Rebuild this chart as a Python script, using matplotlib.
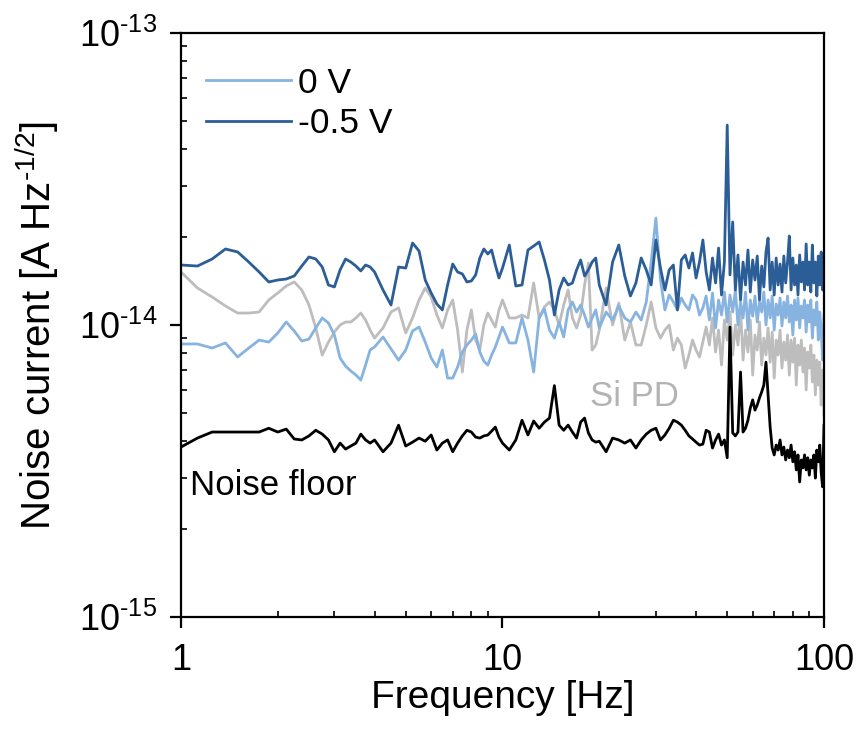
import matplotlib
matplotlib.use("Agg")
import matplotlib.pyplot as plt
from matplotlib.ticker import LogLocator, NullFormatter

plt.rcParams['font.family'] = ['Liberation Sans', 'DejaVu Sans']
plt.rcParams['mathtext.fontset'] = 'custom'
plt.rcParams['mathtext.rm'] = 'Liberation Sans'
plt.rcParams['mathtext.it'] = 'Liberation Sans:italic'
plt.rcParams['mathtext.bf'] = 'Liberation Sans:bold'
plt.rcParams['axes.unicode_minus'] = False

# Frequency bins [Hz]
freq = [1.0, 1.125, 1.25, 1.375, 1.5, 1.625, 1.75, 1.875, 2.0, 2.125, 2.25, 2.375, 2.5,
        2.625, 2.75, 2.875, 3.0, 3.125, 3.25, 3.375, 3.5, 3.625, 3.75, 3.875, 4.0,
        4.25, 4.5, 4.75, 5.0, 5.25, 5.5, 5.75, 6.0, 6.25, 6.5, 6.75, 7.0, 7.25, 7.5,
        7.75, 8.0, 8.25, 8.5, 8.75, 9.0, 9.25, 9.5, 9.75, 10.0,
        10.5, 11, 11.5, 12, 12.5, 13, 13.5, 14, 14.5, 15, 15.5, 16, 16.5, 17, 17.5,
        18, 18.5, 19, 19.5, 20,
        21, 22, 23, 24, 25, 26, 27, 28, 29, 30, 31, 32, 33, 34, 35, 36, 37, 38, 39, 40,
        41, 42, 43, 44, 45, 46, 47, 48, 49, 50, 51, 52, 53, 54, 55, 56, 57, 58, 59, 60,
        61, 62, 63, 64, 65, 66, 67, 68, 69, 70, 71, 72, 73, 74, 75, 76, 77, 78, 79, 80,
        81, 82, 83, 84, 85, 86, 87, 88, 89, 90, 91, 92, 93, 94, 95, 96, 97, 98, 99, 100]

# Noise current values in fA/Hz^0.5
v_m05 = [16.05, 15.92, 16.83, 18.21, 17.79, 16.43, 15.19, 14.04, 14.26, 14.37, 14.72, 15.92, 17.10,
         16.83, 15.80, 13.71, 13.50, 15.44, 16.83, 16.43, 15.92, 15.32, 16.05, 15.80, 15.19,
         13.18, 11.71, 15.80, 15.67, 19.09, 17.93, 14.26, 12.87, 11.80, 11.26, 13.71, 16.18, 15.19, 14.96,
         14.04, 14.15, 14.84, 16.96, 18.21, 17.51, 18.06, 16.05, 14.49, 15.67,
         18.79, 13.60, 13.71, 18.06, 18.64, 19.24, 16.70, 14.26, 10.82, 13.18, 14.49, 13.71, 13.93, 15.44, 16.70,
         14.72, 15.44, 16.43, 16.96, 13.71,
         11.71, 16.43, 18.79, 14.72, 12.57, 13.93, 16.96, 15.44, 13.71, 19.55, 15.67, 13.18, 15.44, 16.05, 11.26, 16.70, 17.37, 15.67, 17.65, 14.49,
         16.43, 19.55, 15.19, 13.18, 16.96, 13.93, 18.35, 12.67, 16.43, 48.4, 14.84, 22.53, 13.18, 17.37, 12.18, 16.43, 13.71, 18.06, 12.97, 16.70,
         14.26, 17.23, 12.18, 15.92, 13.50, 17.79, 19.85, 13.18, 16.43, 12.67, 16.96, 13.71, 16.18, 12.97, 17.23, 13.93, 16.43, 20.17, 13.18, 16.96,
         13.71, 16.05, 12.67, 17.37, 14.04, 16.43, 13.18, 18.94, 13.71, 16.43, 12.97, 18.79, 13.93, 16.43, 12.57, 17.23, 13.71, 17.79, 13.18, 16.43]

v_0 = [8.61, 8.61, 8.34, 8.68, 7.77, 8.34, 8.88, 8.74, 9.39, 10.24, 9.54, 8.81, 8.95,
       9.77, 10.57, 10.16, 9.24, 7.71, 7.23, 6.96, 6.74, 6.48, 7.29, 8.21, 8.41,
       9.10, 8.28, 7.58, 8.21, 9.54, 9.84, 8.74, 7.71, 7.18, 8.21, 6.58, 6.58, 7.18, 8.08,
       8.54, 8.88, 9.31, 8.08, 7.52, 7.29, 7.89, 8.41, 9.10, 9.84,
       8.68, 8.68, 10.57, 8.88, 6.90, 10.57, 11.35, 9.61, 9.02, 10.24, 9.10, 11.26, 11.99, 11.08, 11.71,
       10.82, 9.84, 10.57, 11.26, 9.77,
       11.08, 10.40, 11.62, 10.57, 10.24, 11.08, 10.40, 11.99, 16.43, 23.24, 14.26, 11.26, 12.67, 11.99, 11.26, 12.37, 11.71, 11.26, 12.67, 12.18,
       10.82, 11.44, 12.57, 10.40, 12.87, 9.77, 12.18, 10.82, 12.97, 10.24, 12.67, 11.08, 13.18, 10.00, 11.99, 10.57, 12.97, 9.61, 12.18, 10.73,
       12.57, 10.24, 11.99, 11.08, 12.97, 10.00, 12.18, 10.57, 12.57, 9.61, 11.80, 10.82, 12.37, 9.92, 11.99, 10.57, 12.57, 10.24, 11.71, 9.24,
       12.18, 10.40, 12.37, 9.77, 11.62, 10.57, 12.18, 9.46, 11.71, 10.24, 12.18, 9.02, 11.26, 10.00, 11.99, 8.88, 11.08, 9.61, 7.58, 10.82]

v_sipd = [15.19, 13.39, 12.47, 11.62, 10.99, 10.99, 11.08, 12.18, 12.87, 13.60, 14.04, 13.18, 11.71,
          9.77, 7.89, 8.74, 9.46, 10.00, 10.24, 10.24, 10.57, 10.99, 10.40, 9.61, 9.02,
          9.77, 11.08, 11.44, 9.39, 10.57, 12.18, 13.39, 12.47, 10.82, 9.77, 11.26, 12.18, 9.61, 6.90,
          9.61, 11.26, 8.88, 8.21, 10.00, 10.99, 10.40, 9.84, 11.26, 12.18,
          10.57, 10.57, 10.82, 10.57, 13.93, 10.57, 11.53, 11.99, 11.26, 10.00, 11.71, 13.18, 10.57, 9.77, 10.82,
          13.71, 16.31, 8.21, 8.54, 9.61,
          13.39, 10.00, 11.90, 8.88, 10.24, 8.54, 8.54, 10.00, 11.99, 9.77, 9.02, 9.61, 10.00, 8.21, 9.02, 8.54, 7.12, 7.89, 8.88, 8.21,
          7.77, 8.74, 9.84, 8.54, 10.57, 8.08, 9.61, 7.29, 10.40, 8.88, 11.08, 7.89, 10.00, 8.54, 11.44, 7.58, 9.61, 8.08, 10.40, 6.74,
          9.24, 8.21, 10.24, 7.29, 9.02, 7.89, 9.77, 7.46, 9.46, 6.58, 8.88, 7.89, 9.61, 7.12, 8.74, 7.58, 9.24, 6.74, 8.88, 7.46,
          9.02, 6.23, 8.54, 7.29, 8.88, 6.90, 8.34, 5.99, 8.08, 7.12, 8.54, 6.38, 7.89, 5.76, 7.58, 6.23, 7.46, 5.32, 7.01, 4.92]

v_floor = [3.82, 4.10, 4.30, 4.30, 4.30, 4.30, 4.30, 4.43, 4.30, 4.40, 4.07, 4.04, 4.17,
           4.36, 4.23, 4.04, 3.68, 3.94, 3.76, 3.85, 3.94, 4.23, 4.04, 3.94, 4.04,
           3.68, 3.94, 4.54, 3.85, 3.97, 4.10, 4.00, 4.20, 3.73, 3.94, 4.04, 3.68, 3.94, 4.17,
           4.36, 4.30, 4.13, 4.10, 4.17, 4.20, 4.33, 4.47, 4.13, 3.94,
           3.73, 4.04, 4.72, 4.20, 4.69, 4.43, 4.65, 4.80, 6.20, 4.54, 4.36, 4.54, 4.30, 4.10, 4.65,
           4.80, 4.27, 4.04, 3.97, 4.00,
           3.68, 4.10, 4.04, 3.94, 4.04, 3.79, 4.04, 4.23, 4.36, 4.43, 4.04, 4.20, 4.43, 4.72, 4.65, 4.54, 4.36, 4.17, 4.07, 3.97,
           3.88, 3.91, 4.36, 4.30, 3.79, 4.04, 4.23, 3.88, 4.04, 3.51, 9.84, 4.27, 4.17, 4.30, 6.90, 4.30, 4.43, 4.72, 5.20, 5.54,
           5.11, 5.32, 5.63, 5.90, 6.23, 7.46, 5.76, 4.47, 3.79, 3.59, 3.88, 3.73, 4.04, 3.59, 3.82, 3.45, 3.73, 3.51, 3.88, 3.40,
           3.68, 3.19, 3.59, 2.90, 3.45, 3.24, 3.59, 3.19, 3.51, 3.06, 3.45, 3.24, 3.59, 2.99, 3.73, 3.40, 3.88, 3.13, 2.79, 4.54]

labels = ["0 V", "-0.5 V"]
x_ticks = [1, 10, 100]
x_ticklabels = ["1", "10", "100"]
y_ticks = [1e-15, 1e-14, 1e-13]
y_exponents = ["15", "14", "13"]
scale = 1e-15

HY = "\u2010"  # short hyphen for superscripts

c_light = "#86b3df"
c_dark = "#2b5d97"
c_gray = "#bdbdbd"

fig = plt.figure(figsize=(8.61, 7.42), dpi=100)
ax = fig.add_axes([181 / 861, 125 / 742, 643 / 861, 584 / 742])

lw = 2.0
ax.plot(freq, [v * scale for v in v_sipd], color=c_gray, lw=lw)
l0, = ax.plot(freq, [v * scale for v in v_0], color=c_light, lw=lw, label=labels[0])
l1, = ax.plot(freq, [v * scale for v in v_m05], color=c_dark, lw=lw, label=labels[1])
ax.plot(freq, [v * scale for v in v_floor], color="black", lw=lw)

ax.set_xscale("log")
ax.set_yscale("log")
ax.set_xlim(1, 100)
ax.set_ylim(1e-15, 1e-13)

for s in ax.spines.values():
    s.set_linewidth(1.6)

ax.xaxis.set_minor_locator(LogLocator(base=10, subs=range(2, 10), numticks=20))
ax.yaxis.set_minor_locator(LogLocator(base=10, subs=range(2, 10), numticks=20))
ax.xaxis.set_minor_formatter(NullFormatter())
ax.yaxis.set_minor_formatter(NullFormatter())
ax.set_xticks(x_ticks)
ax.set_xticklabels(x_ticklabels)
ax.set_yticks(y_ticks)
ax.set_yticklabels(["10$^{\\mathregular{" + HY + e + "}}$" for e in y_exponents])
ax.set_ylim(1e-15, 1e-13)

ax.tick_params(which="major", direction="out", length=8, width=1.6, labelsize=26)
ax.tick_params(axis="x", which="major", pad=11)
ax.tick_params(axis="y", which="major", pad=9)
ax.tick_params(which="minor", direction="in", length=4, width=1.2)
ax.tick_params(top=False, right=False, which="both")

ax.set_xlabel("Frequency [Hz]", fontsize=28, labelpad=1)
ax.set_ylabel("Noise current [A Hz$^{\\mathregular{" + HY + "1/2}}$]", fontsize=29, labelpad=13)

ax.legend(handles=[l0, l1], loc="upper left", frameon=False, fontsize=25.5,
          handlelength=2.4, handletextpad=0.2, labelspacing=0.22,
          bbox_to_anchor=(0.0, 0.985), borderaxespad=0.3)

ax.text(18.7, 5.67e-15, "Si PD", color="#b3b3b3", fontsize=25, ha="left", va="center")
ax.text(1.066, 2.83e-15, "Noise floor", color="black", fontsize=25, ha="left", va="center")

fig.savefig("out.png", dpi=100)
